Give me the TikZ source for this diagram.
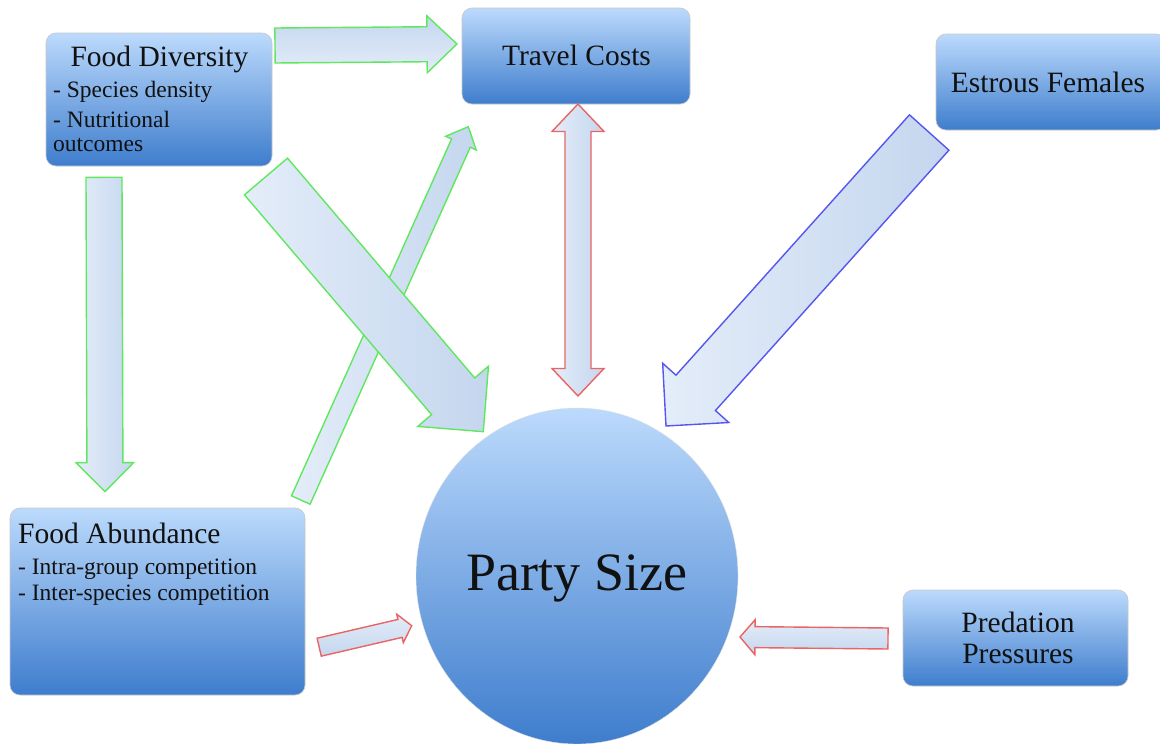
\documentclass[tikz,border=0pt]{standalone}
\usepackage{fontspec}
\setmainfont{Liberation Serif}
\usetikzlibrary{shapes.geometric,calc}
\definecolor{boxtop}{HTML}{BCDAFC}
\definecolor{boxbot}{HTML}{3E7DCD}
\definecolor{arlight}{HTML}{E4EDF9}
\definecolor{ardark}{HTML}{C4D6EE}
\definecolor{agreen}{HTML}{5FE85F}
\definecolor{ared}{HTML}{EA6464}
\definecolor{ablue}{HTML}{5656EE}
\definecolor{txt}{HTML}{111111}
% block arrow: style, tail, tip, half shaft, half head, head length
\newcommand\blockarrow[6]{%
\draw[#1] ($(#2)!#4pt!90:(#3)$) -- ($(#3)!#6pt!(#2)!#4pt!-90:(#2)$) -- ($(#3)!#6pt!(#2)!#5pt!-90:(#2)$) -- (#3) -- ($(#3)!#6pt!(#2)!#5pt!90:(#2)$) -- ($(#3)!#6pt!(#2)!#4pt!90:(#2)$) -- ($(#2)!#4pt!-90:(#3)$) -- cycle;}
% double block arrow: style, end1, end2, half shaft, half head, head length
\newcommand\dblarrow[6]{%
\draw[#1] (#2) -- ($(#2)!#6pt!(#3)!#5pt!90:(#3)$) -- ($(#2)!#6pt!(#3)!#4pt!90:(#3)$) -- ($(#3)!#6pt!(#2)!#4pt!-90:(#2)$) -- ($(#3)!#6pt!(#2)!#5pt!-90:(#2)$) -- (#3) -- ($(#3)!#6pt!(#2)!#5pt!90:(#2)$) -- ($(#3)!#6pt!(#2)!#4pt!90:(#2)$) -- ($(#2)!#6pt!(#3)!#4pt!-90:(#3)$) -- ($(#2)!#6pt!(#3)!#5pt!-90:(#3)$) -- cycle;}
\begin{document}
\begin{tikzpicture}[x=1pt,y=-1pt,
  box/.style={draw=black!22, line width=0.6pt, rounded corners=10pt, top color=boxtop, bottom color=boxbot, inner sep=0pt},
  ttl/.style={font=\fontsize{29.5}{32}\selectfont, text=txt, inner sep=0pt},
  bdy/.style={font=\fontsize{23.5}{26}\selectfont, text=txt, inner sep=0pt},
  bigtxt/.style={font=\fontsize{54}{60}\selectfont, text=txt, inner sep=0pt},
  arrbase/.style={line width=1.4pt, line join=miter, left color=arlight, right color=ardark},
  garrow/.style={arrbase, draw=agreen},
  rarrow/.style={arrbase, draw=ared},
  barrow/.style={arrbase, draw=ablue}]
\useasboundingbox (0,0) rectangle (1160,744);
% boxes
\node[box, minimum width=226pt, minimum height=133pt] (fd) at (159,99.5) {};
\node[box, minimum width=228pt, minimum height=96pt] (tc) at (576,56) {};
\node[box, minimum width=230pt, minimum height=96pt] (ef) at (1051,82) {};
\node[box, minimum width=295pt, minimum height=187pt] (fa) at (157.5,601.5) {};
\node[box, minimum width=225pt, minimum height=96pt] (pp) at (1015.5,638) {};
\node[ellipse, draw=black!12, line width=0.4pt, top color=boxtop, bottom color=boxbot, inner sep=0pt, minimum width=322pt, minimum height=336pt] (ps) at (577,576) {};
% texts
\node[ttl, anchor=base] (fdt) at (159.5,66.5) {Food Diversity};
\node[bdy, anchor=base west] (fd1) at (53,97) {- Species density};
\node[bdy, anchor=base west] (fd2) at (53,127.5) {- Nutritional};
\node[bdy, anchor=base west] (fd3) at (53,151.5) {outcomes};
\node[ttl, anchor=base] (tct) at (576.5,65) {Travel Costs};
\node[ttl, anchor=base] (eft) at (1048,92) {Estrous Females};
\node[ttl, anchor=base west] (fat) at (18,543) {Food Abundance};
\node[bdy, anchor=base west] (fa1) at (18,574) {- Intra-group competition};
\node[bdy, anchor=base west] (fa2) at (18,600) {- Inter-species competition};
\node[bigtxt, anchor=base] (pst) at (577,590) {Party Size};
\node[ttl, anchor=base] (pp1) at (1018,632) {Predation};
\node[ttl, anchor=base] (pp2) at (1018,663) {Pressures};
% arrow end points
\coordinate (a1) at (275,45.5); \coordinate (a2) at (457,44);
\coordinate (b1) at (104,177.3); \coordinate (b2) at (105,491.7);
\coordinate (c1) at (266,176.5); \coordinate (c2) at (483.3,431.7);
\coordinate (d1) at (300.8,500); \coordinate (d2) at (468.3,126.7);
\coordinate (e1) at (578,104); \coordinate (e2) at (578,396);
\coordinate (f1) at (929.2,132.5); \coordinate (f2) at (666,426);
\coordinate (g1) at (319.2,647.2); \coordinate (g2) at (411.7,625.7);
\coordinate (h1) at (888,638.5); \coordinate (h2) at (740,637);
% arrows
\blockarrow{garrow, top color=ardark, bottom color=arlight}{a1}{a2}{17.5}{28.5}{30}
\blockarrow{garrow}{b1}{b2}{18}{28.7}{29}
\blockarrow{garrow}{d1}{d2}{10.2}{16.7}{18}
\blockarrow{garrow}{c1}{c2}{28.3}{46.4}{46.5}
\dblarrow{rarrow}{e1}{e2}{13}{26}{27.5}
\blockarrow{barrow}{f1}{f2}{26.5}{44.4}{44.5}
\blockarrow{rarrow, top color=arlight, bottom color=ardark}{g1}{g2}{9.2}{14.6}{12}
\blockarrow{rarrow, top color=arlight, bottom color=ardark}{h1}{h2}{10.5}{17.5}{15}
\end{tikzpicture}
\end{document}
